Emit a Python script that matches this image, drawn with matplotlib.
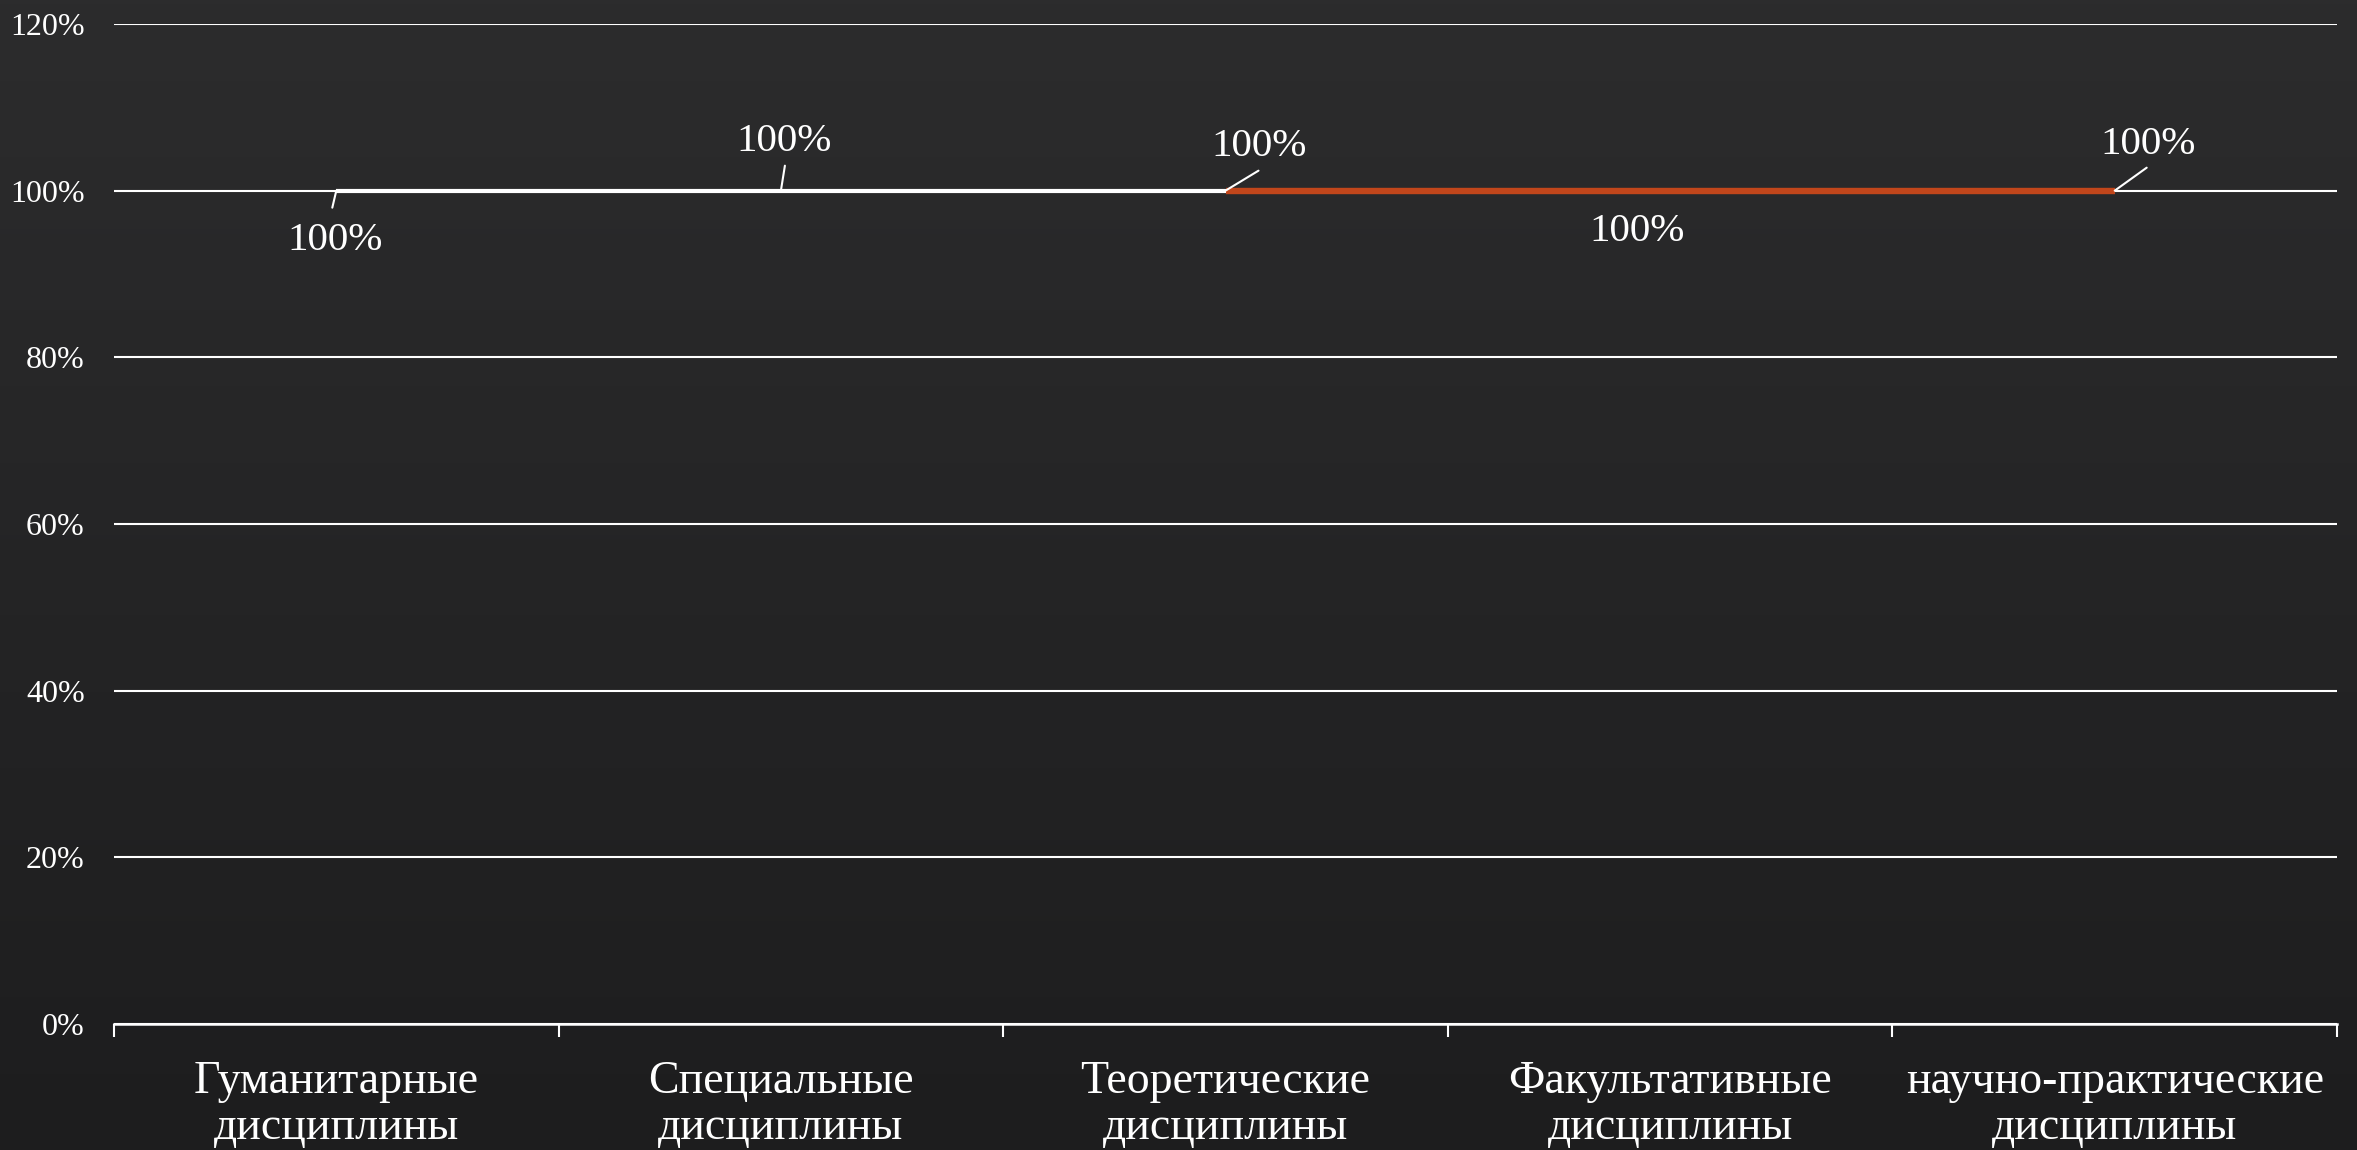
import numpy as np
import matplotlib.pyplot as plt
from matplotlib.ticker import FuncFormatter

plt.rcParams['font.family'] = ['Liberation Serif', 'DejaVu Serif']

categories = ['Гуманитарные\nдисциплины', 'Специальные\nдисциплины', 'Теоретические\nдисциплины',
              'Факультативные\nдисциплины', 'научно-практические\nдисциплины']
series_white = [1.0, 1.0, 1.0, np.nan, np.nan]
series_orange = [np.nan, np.nan, 1.0, 1.0, 1.0]
yticks = [0, 0.2, 0.4, 0.6, 0.8, 1.0, 1.2]

# label offsets in pixels: (text dx, text dy, leader dx, leader dy or None)
label_pos = [(-1, -50, -4, -17), (3, 49, 4, 25), (34, 44, 33, 20), (-33, -41, None, None), (33, 46, 32, 23)]
label_vals = [1.0, 1.0, 1.0, 1.0, 1.0]

fig = plt.figure(figsize=(23.57, 11.5), dpi=100)

# background gradient
bg = fig.add_axes([0, 0, 1, 1], zorder=-10)
grad = np.linspace(0, 1, 256).reshape(-1, 1)
bg.imshow(grad, aspect='auto', cmap=plt.matplotlib.colors.LinearSegmentedColormap.from_list(
    'bg', ['#2c2c2d', '#1d1d1e']), extent=[0, 1, 0, 1])
bg.axis('off')

ax = fig.add_axes([114/2357, 1 - 1024/1150, (2337-114)/2357, (1024-24)/1150])
ax.patch.set_alpha(0)

x = np.arange(len(categories))
ax.plot(x, series_white, color='white', lw=3, solid_capstyle='butt', zorder=3)
ax.plot(x, series_orange, color='#C1461B', lw=4.6, solid_capstyle='butt', zorder=4)

for xi, v, (dx, dy, lx, ly) in zip(x, label_vals, label_pos):
    if lx is not None:
        ax.annotate('', xy=(xi, v), xytext=(lx, ly), textcoords='offset pixels',
                    arrowprops=dict(arrowstyle='-', color='white', lw=1.5, shrinkA=0, shrinkB=0), zorder=5)
    ax.annotate('{:.0%}'.format(v), xy=(xi, v), xytext=(dx, dy), textcoords='offset pixels',
                ha='center', va='center', color='white', fontsize=29.5, zorder=6)

ax.set_xlim(-0.5, len(categories) - 0.5)
ax.set_ylim(0, 1.2)
ax.set_yticks(yticks)
ax.yaxis.set_major_formatter(FuncFormatter(lambda v, p: '{:.0%}'.format(v)))
ax.tick_params(axis='y', length=0, pad=21, labelsize=23, labelcolor='white')
ax.grid(axis='y', color='white', lw=1.5, zorder=1)
ax.set_axisbelow(True)

ax.set_xticks(np.arange(-0.5, len(categories), 1.0))
ax.set_xticklabels([])
ax.set_xticks(x, minor=True)
ax.set_xticklabels(categories, minor=True, fontsize=33, color='white', linespacing=1.12)
ax.tick_params(axis='x', which='major', length=9.5, width=1.5, color='white')
ax.tick_params(axis='x', which='minor', length=0, pad=26)

for s in ['top', 'right', 'left']:
    ax.spines[s].set_visible(False)
ax.spines['bottom'].set_color('white')
ax.spines['bottom'].set_linewidth(1.8)

fig.savefig('out.png', dpi=100)
